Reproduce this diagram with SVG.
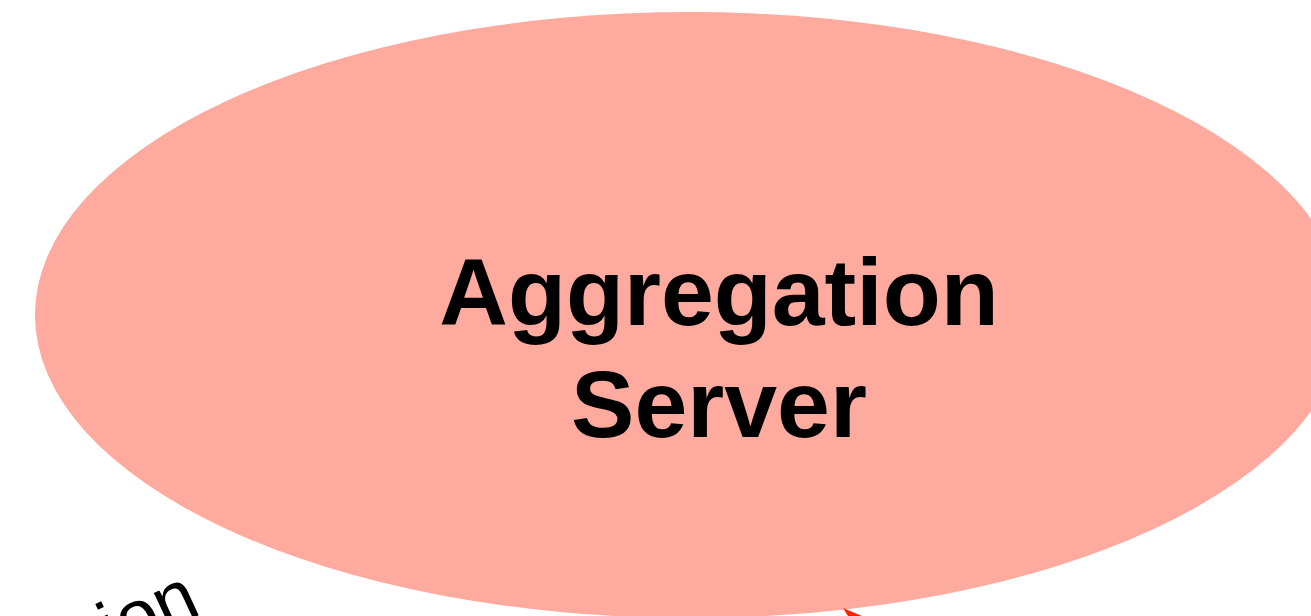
<svg xmlns="http://www.w3.org/2000/svg" width="1311" height="616" viewBox="0 0 1311 616">
<style>
.lbl{font-family:"Liberation Sans",Arial,sans-serif;font-weight:bold;font-size:95px;fill:#000;text-anchor:middle}
.edge{font-family:"Liberation Sans",Arial,sans-serif;font-size:74px;fill:#000}
</style>
<rect width="1311" height="616" fill="#fff"/>
<g id="aggregation-server">
<ellipse cx="690" cy="315" rx="655" ry="303" fill="#FFAA9E"/>
<text class="lbl" x="719" y="325">Aggregation</text>
<text class="lbl" x="719" y="437">Server</text>
</g>
<g id="connectors">
<polygon points="843,608 862,616 848,616" fill="#FF2200"/>
<text class="edge" text-anchor="end" transform="translate(203,613) rotate(-25)">ion</text>
</g>
</svg>
